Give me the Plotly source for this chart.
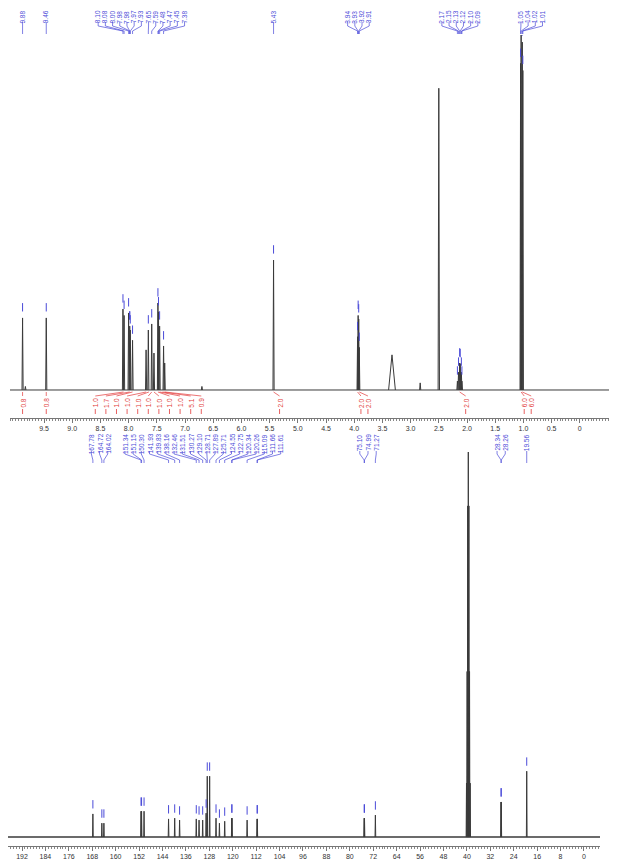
import plotly.graph_objects as go

# The page body has an 8 px default margin, so the figure is drawn 8 px in and down.
OFF = 8
W, H = 617 - OFF, 860 - OFF

# ---------------- 1H data ----------------
h1_ppm = [9.88, 9.83, 9.46, 8.10, 8.08, 8.00, 7.98, 7.97, 7.93, 7.69, 7.65, 7.59, 7.55,
          7.48, 7.47, 7.45, 7.38, 7.36, 6.70, 5.43, 3.94, 3.93, 3.92, 3.91, 3.33, 2.83,
          2.50, 2.17, 2.15, 2.13, 2.12, 2.10, 2.09, 1.05, 1.04, 1.02, 1.01]
h1_int = [20.3, 1.0, 20.3, 22.8, 21.0, 21.7, 18.0, 16.9, 14.0, 11.3, 16.9, 18.6, 10.4,
          24.5, 22.0, 18.0, 12.4, 7.6, 1.0, 36.6, 15.0, 21.0, 20.0, 12.0, 9.9, 2.0,
          85.0, 2.5, 5.0, 7.6, 7.4, 5.0, 2.5, 92.0, 100.0, 98.0, 90.0]
h1_hw = [0.01, 0.01, 0.01, 0.01, 0.01, 0.01, 0.01, 0.01, 0.01, 0.01, 0.01, 0.01, 0.01,
         0.01, 0.01, 0.01, 0.01, 0.01, 0.01, 0.01, 0.01, 0.01, 0.01, 0.01, 0.06, 0.01,
         0.012, 0.01, 0.01, 0.01, 0.01, 0.01, 0.01, 0.01, 0.01, 0.01, 0.01]

h1_label_groups = [
    ["9.88"], ["9.46"],
    ["8.10", "8.08", "8.00", "7.98", "7.98", "7.97", "7.93", "7.65", "7.59", "7.48", "7.47", "7.45", "7.38"],
    ["5.43"],
    ["3.94", "3.93", "3.92", "3.91"],
    ["2.17", "2.15", "2.13", "2.12", "2.10", "2.09"],
    ["1.05", "1.04", "1.02", "1.01"],
]

h1_integrals = [0.8, 0.8, 1.0, 1.7, 1.0, 1.0, 1.0, 1.0, 1.0, 1.0, 1.0, 5.1, 0.9,
                2.0, 2.0, 2.0, 2.0, 6.0, 6.0]
h1_int_center = [9.88, 9.46, 8.09, 7.98, 7.93, 7.69, 7.64, 7.59, 7.55, 7.48, 7.45, 7.40, 7.36,
                 5.43, 3.94, 3.91, 2.13, 1.04, 1.02]
h1_int_groups = [1, 1, 11, 1, 2, 1, 2]

h1_tickvals = [9.5, 9.0, 8.5, 8.0, 7.5, 7.0, 6.5, 6.0, 5.5, 5.0, 4.5, 4.0, 3.5, 3.0, 2.5, 2.0, 1.5, 1.0, 0.5, 0]
h1_ticktext = ["9.5", "9.0", "8.5", "8.0", "7.5", "7.0", "6.5", "6.0", "5.5", "5.0", "4.5", "4.0",
               "3.5", "3.0", "2.5", "2.0", "1.5", "1.0", "0.5", "0"]

# ---------------- 13C data ----------------
c13_ppm = [167.78, 164.72, 164.02, 151.34, 151.15, 150.30, 141.93, 139.83, 138.16, 132.46,
           131.51, 130.27, 129.10, 128.71, 127.89, 125.71, 124.55, 122.75, 120.34, 120.26,
           115.09, 111.66, 111.61, 75.10, 74.99, 71.27,
           40.14, 39.93, 39.72, 39.52, 39.31, 39.10, 38.89,
           28.34, 28.26, 19.56]
c13_int = [6.0, 3.6, 3.6, 6.7, 6.7, 6.7, 4.7, 4.9, 4.4, 4.7,
           4.4, 4.4, 6.2, 15.8, 15.8, 4.9, 3.6, 4.1, 4.9, 4.9,
           4.4, 4.7, 4.7, 4.9, 4.9, 5.7,
           14.0, 43.0, 86.0, 100.0, 86.0, 43.0, 14.0,
           9.1, 9.1, 17.1]
c13_label_groups = [
    ["167.78", "164.72", "164.02"],
    ["151.34", "151.15", "150.30", "141.93", "139.83", "138.16", "132.46", "131.51", "130.27",
     "129.10", "128.71", "127.89", "125.71", "124.55", "122.75", "120.34", "120.26", "115.09",
     "111.66", "111.61"],
    ["75.10", "74.99", "71.27"],
    ["28.34", "28.26"],
    ["19.56"],
]
c13_tickvals = [192, 184, 176, 168, 160, 152, 144, 136, 128, 120, 112, 104, 96, 88, 80, 72,
                64, 56, 48, 40, 32, 24, 16, 8, 0]
c13_ticktext = [str(v) for v in c13_tickvals]

# ---------------- layout geometry (page pixels) ----------------
def py(px):
    return 1 - (px - OFF) / H


def pxd(px):
    return (px - OFF) / W


H1_PPX = 56.4        # px per ppm
H1_REF_X, H1_REF_PPM = 44, 9.5
C13_PPX = 2.927
C13_REF_X, C13_REF_PPM = 22, 192

h1_x0, h1_x1 = 10, 615
c13_x0, c13_x1 = 8, 600
h1_range = [H1_REF_PPM + (H1_REF_X - h1_x0) / H1_PPX, H1_REF_PPM - (h1_x1 - H1_REF_X) / H1_PPX]
c13_range = [C13_REF_PPM + (C13_REF_X - c13_x0) / C13_PPX, C13_REF_PPM - (c13_x1 - C13_REF_X) / C13_PPX]

SPEC = "#3a3a3a"
BLUE = "#4a4ad8"
RED = "#e23a3a"
FONT = "Arial, Liberation Sans, sans-serif"


def spectrum_xy(ppm, inten, hw):
    xs, ys = [], []
    for p, h, w in zip(ppm, inten, hw):
        xs += [p + w, p, p - w, None]
        ys += [0, h, 0, None]
    return xs, ys


def spread(center, n, spacing_px, ppx):
    d = spacing_px / ppx
    return [center + ((n - 1) / 2 - i) * d for i in range(n)]


fig = go.Figure()

# ---- 1H spectrum ----
fig.add_trace(go.Scatter(x=[h1_range[0], h1_range[1]], y=[0, 0], mode="lines",
                         line=dict(color=SPEC, width=1), xaxis="x", yaxis="y", hoverinfo="skip"))
xs, ys = spectrum_xy(h1_ppm, h1_int, h1_hw)
fig.add_trace(go.Scatter(x=xs, y=ys, mode="lines", line=dict(color=SPEC, width=1),
                         xaxis="x", yaxis="y", hoverinfo="skip"))

# ---- 13C spectrum ----
fig.add_trace(go.Scatter(x=[c13_range[0], c13_range[1]], y=[0, 0], mode="lines",
                         line=dict(color=SPEC, width=1.6), xaxis="x2", yaxis="y2", hoverinfo="skip"))
xs, ys = spectrum_xy(c13_ppm, c13_int, [0.12] * len(c13_ppm))
fig.add_trace(go.Scatter(x=xs, y=ys, mode="lines", line=dict(color=SPEC, width=1),
                         xaxis="x2", yaxis="y2", hoverinfo="skip"))

annotations = []
shapes = []

# ---- 1H peak labels ----
h1_lookup = dict()
for p, h in zip(h1_ppm, h1_int):
    h1_lookup.setdefault(f"{p:.2f}", []).append(h)
mk_x, mk_y = [], []
group_offsets_px = [0, 0, 0, 0, 0, 0, 10]
for g, off in zip(h1_label_groups, group_offsets_px):
    vals = [float(t) for t in g]
    center = sum(vals) / len(vals) - off / H1_PPX
    pos = spread(center, len(g), 7.2, H1_PPX)
    for t, v, lx in zip(g, vals, pos):
        annotations.append(dict(x=lx, y=py(8.5), xref="x", yref="paper", text=t, textangle=-90,
                                showarrow=False, xanchor="center", yanchor="top",
                                font=dict(family=FONT, size=6.5, color=BLUE)))
        shapes.append(dict(type="path", xref="x", yref="paper",
                           path=f"M {lx},{py(22)} L {lx},{py(26)} L {v},{py(31)} L {v},{py(34)}",
                           line=dict(color=BLUE, width=0.7)))
        hh = max(h1_lookup.get(t, [0]))
        mk_x.append(v)
        mk_y.append(hh + 3)
fig.add_trace(go.Scatter(x=mk_x, y=mk_y, mode="markers", xaxis="x", yaxis="y", hoverinfo="skip",
                         marker=dict(symbol="line-ns", size=6, line=dict(color=BLUE, width=1))))

# ---- 1H integrals ----
idx = 0
for gsize in h1_int_groups:
    cs = h1_int_center[idx:idx + gsize]
    center = sum(cs) / len(cs)
    sp = 10.6 if gsize > 2 else 7.0
    pos = spread(center - (6 / H1_PPX if gsize <= 2 and center < 6 else 0), gsize, sp, H1_PPX)
    for k in range(gsize):
        lx = pos[k]
        annotations.append(dict(x=lx, y=py(403), xref="x", yref="paper",
                                text=f"{h1_integrals[idx + k]:.1f}", textangle=-90, showarrow=False,
                                xanchor="center", yanchor="middle",
                                font=dict(family=FONT, size=6.5, color=RED)))
        shapes.append(dict(type="path", xref="x", yref="paper",
                           path=f"M {cs[k]},{py(392)} L {lx},{py(396)}",
                           line=dict(color=RED, width=0.7)))
        shapes.append(dict(type="path", xref="x", yref="paper",
                           path=f"M {lx},{py(409)} L {lx},{py(414)}",
                           line=dict(color=RED, width=0.8)))
    idx += gsize

# ---- 13C peak labels ----
c13_lookup = dict()
for p, h in zip(c13_ppm, c13_int):
    c13_lookup.setdefault(f"{p:.2f}", []).append(h)
mk_x, mk_y = [], []
for g in c13_label_groups:
    vals = [float(t) for t in g]
    center = sum(vals) / len(vals)
    pos = spread(center, len(g), 8.2, C13_PPX)
    for t, v, lx in zip(g, vals, pos):
        annotations.append(dict(x=lx, y=py(432), xref="x2", yref="paper", text=t, textangle=-90,
                                showarrow=False, xanchor="center", yanchor="top",
                                font=dict(family=FONT, size=6.5, color=BLUE)))
        shapes.append(dict(type="path", xref="x2", yref="paper",
                           path=f"M {lx},{py(451)} L {lx},{py(454)} L {v},{py(460)} L {v},{py(463)}",
                           line=dict(color=BLUE, width=0.7)))
        hh = max(c13_lookup.get(t, [0]))
        mk_x.append(v)
        mk_y.append(hh + 2.5)
fig.add_trace(go.Scatter(x=mk_x, y=mk_y, mode="markers", xaxis="x2", yaxis="y2", hoverinfo="skip",
                         marker=dict(symbol="line-ns", size=6, line=dict(color=BLUE, width=1))))

axis_common = dict(showgrid=False, zeroline=False, showline=True, linecolor="#777", linewidth=1,
                   ticks="outside", tickcolor="#777", tickwidth=1, ticklen=4,
                   tickfont=dict(family=FONT, size=7, color="#333"))

fig.update_layout(
    width=W, height=H, margin=dict(l=0, r=0, t=0, b=0),
    paper_bgcolor="white", plot_bgcolor="white", showlegend=False,
    xaxis=dict(domain=[pxd(h1_x0), pxd(h1_x1)], range=h1_range, anchor="y",
               tickmode="array", tickvals=h1_tickvals, ticktext=h1_ticktext,
               minor=dict(dtick=0.05, ticklen=2, tickcolor="#888", ticks="outside", showgrid=False),
               **axis_common),
    yaxis=dict(domain=[py(418), py(35)], range=[-7.89, 100], visible=False),
    xaxis2=dict(domain=[pxd(c13_x0), pxd(c13_x1)], range=c13_range, anchor="y2",
                tickmode="array", tickvals=c13_tickvals, ticktext=c13_ticktext,
                minor=dict(dtick=1, ticklen=2, tickcolor="#888", ticks="outside", showgrid=False),
                **axis_common),
    yaxis2=dict(domain=[py(846), py(452)], range=[-2.33, 100], visible=False),
    annotations=annotations,
    shapes=shapes,
)

fig.write_html("out.html")
